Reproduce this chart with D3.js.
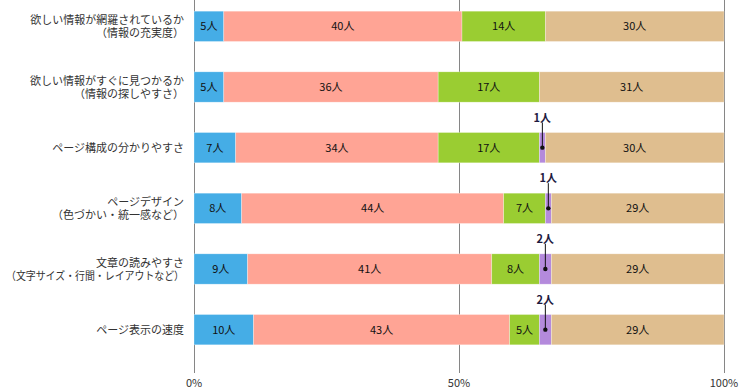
<!DOCTYPE html>
<html>
<head>
<meta charset="utf-8">
<script src="https://cdn.jsdelivr.net/npm/d3@7"></script>
<style>
  body { margin: 0; background: #fff; }
  text { font-family: "Noto Sans CJK JP", "Noto Sans", sans-serif; }
</style>
</head>
<body>
<script>
// Chart data
var categories = [
    ["欲しい情報が網羅されているか", "（情報の充実度）"],
    ["欲しい情報がすぐに見つかるか", "（情報の探しやすさ）"],
    ["ページ構成の分かりやすさ"],
    ["ページデザイン", "（色づかい・統一感など）"],
    ["文章の読みやすさ", "（文字サイズ・行間・レイアウトなど）"],
    ["ページ表示の速度"]
];
var seriesKeys = ["s1", "s2", "s3", "s4", "s5"];
var s1 = [5, 5, 7, 8, 9, 10];
var s2 = [40, 36, 34, 44, 41, 43];
var s3 = [14, 17, 17, 7, 8, 5];
var s4 = [0, 0, 1, 1, 2, 2];
var s5 = [30, 31, 30, 29, 29, 29];
var colors = ["#45ade6", "#ffa495", "#9acd32", "#b48adc", "#dfbe8f"];
var tickValues = [0, 0.5, 1];
var tickLabels = ["0%", "50%", "100%"];

var width = 742, height = 392;
var margin = {left: 194, right: 18, top: -4, bottom: 32};

var svg = d3.select("body").append("svg")
    .attr("width", width).attr("height", height);

// Build table
var table = categories.map(function(c, i) {
    var row = {label: c, s1: s1[i], s2: s2[i], s3: s3[i], s4: s4[i], s5: s5[i]};
    row.total = s1[i] + s2[i] + s3[i] + s4[i] + s5[i];
    seriesKeys.forEach(function(k) { row[k + "p"] = row[k] / row.total; });
    return row;
});

var stack = d3.stack().keys(seriesKeys.map(function(k) { return k + "p"; }));
var stacked = stack(table);

var x = d3.scaleLinear().domain([0, 1]).range([margin.left, width - margin.right]);
var y = d3.scaleBand().domain(d3.range(categories.length))
    .range([margin.top, height - margin.bottom]).paddingInner(0.5).paddingOuter(0.25);

// Gridlines
svg.append("g").selectAll("line").data(tickValues).enter().append("line")
    .attr("x1", function(d) { return Math.round(x(d)) + 0.5; })
    .attr("x2", function(d) { return Math.round(x(d)) + 0.5; })
    .attr("y1", 0).attr("y2", 373)
    .attr("stroke", "#868686").attr("stroke-width", 1);

// Tick labels
svg.append("g").selectAll("text").data(tickValues).enter().append("text")
    .attr("x", function(d) { return x(d); })
    .attr("y", 387)
    .attr("text-anchor", "middle")
    .attr("font-size", "11px")
    .attr("fill", "#333")
    .text(function(d, i) { return tickLabels[i]; });

// Bars
var layers = svg.append("g").selectAll("g").data(stacked).enter().append("g")
    .attr("fill", function(d, i) { return colors[i]; });

layers.selectAll("rect").data(function(d) { return d; }).enter().append("rect")
    .attr("x", function(d) { return x(d[0]); })
    .attr("width", function(d) { return x(d[1]) - x(d[0]); })
    .attr("y", function(d, i) { return y(i); })
    .attr("height", y.bandwidth())
    .attr("stroke", "#fff").attr("stroke-opacity", 0.5).attr("stroke-width", 0.6);

// Value labels
stacked.forEach(function(layer, li) {
    var key = seriesKeys[li];
    layer.forEach(function(d, i) {
        var v = table[i][key];
        if (v === 0) return;
        var w = x(d[1]) - x(d[0]);
        var cx = (x(d[0]) + x(d[1])) / 2;
        var cy = y(i) + y.bandwidth() / 2;
        if (w > 15) {
            svg.append("text")
                .attr("x", cx).attr("y", cy + 4)
                .attr("text-anchor", "middle")
                .attr("font-size", "11px")
                .attr("fill", "#111")
                .text(v + "人");
        } else {
            // callout above the bar
            svg.append("line")
                .attr("x1", cx).attr("x2", cx)
                .attr("y1", y(i) - 10).attr("y2", cy)
                .attr("stroke", "#111").attr("stroke-width", 1);
            svg.append("circle")
                .attr("cx", cx).attr("cy", cy).attr("r", 2.2)
                .attr("fill", "#111");
            svg.append("text")
                .attr("x", cx).attr("y", y(i) - 11)
                .attr("text-anchor", "middle")
                .attr("font-size", "11px")
                .attr("font-weight", "bold")
                .attr("fill", "#1e1a40")
                .text(v + "人");
        }
    });
});

// Category labels, one text element per line
var catG = svg.append("g");
table.forEach(function(d, i) {
    var cy = y(i) + y.bandwidth() / 2;
    var lines = d.label;
    lines.forEach(function(l, j) {
        var off = lines.length === 1 ? 4 : (j === 0 ? -2 : 10.5);
        var t = catG.append("text")
            .attr("x", 184)
            .attr("y", cy + off)
            .attr("text-anchor", "end")
            .attr("font-size", "11px")
            .attr("fill", "#333")
            .text(l);
        // squeeze very long lines so they fit beside the axis
        if (t.node().getComputedTextLength() > 178) {
            t.attr("textLength", 178).attr("lengthAdjust", "spacingAndGlyphs");
        }
    });
});
</script>
</body>
</html>
